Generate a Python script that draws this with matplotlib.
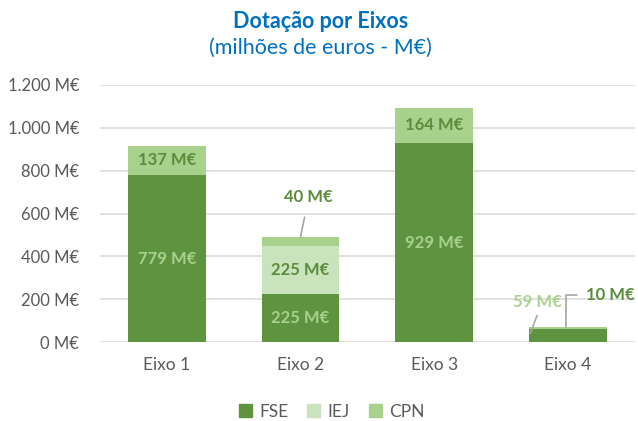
import matplotlib
matplotlib.use("Agg")
import matplotlib.pyplot as plt
from matplotlib.patches import Patch

plt.rcParams["font.family"] = ["Lato", "DejaVu Sans"]

# dados (milhões de euros)
eixos = ["Eixo 1", "Eixo 2", "Eixo 3", "Eixo 4"]
fse = [779, 225, 929, 59]
iej = [0, 225, 0, 0]
cpn = [137, 40, 164, 10]

c_fse = "#5E9440"
c_iej = "#C9E3BC"
c_cpn = "#A9D18E"
c_lab = "#5A8C3A"
c_txt = "#595959"
c_line = "#A6A6A6"


def fmt(v):
    return f"{v:,.0f} M€".replace(",", ".")


fig = plt.figure(figsize=(6.38, 4.21), dpi=100)
ax = fig.add_axes([0.1567, 0.1876, 0.838, 0.6105])

x = list(range(len(eixos)))
w = 0.58
base2 = [a + b for a, b in zip(fse, iej)]
ax.bar(x, fse, width=w, color=c_fse, zorder=3)
ax.bar(x, iej, width=w, bottom=fse, color=c_iej, zorder=3)
ax.bar(x, cpn, width=w, bottom=base2, color=c_cpn, zorder=3)

ax.set_ylim(0, 1200)
ax.set_xlim(-0.5, len(eixos) - 0.5)
ax.set_yticks(range(0, 1201, 200))
ax.set_yticklabels([fmt(v) for v in range(0, 1201, 200)])
ax.set_xticks(x)
ax.set_xticklabels(eixos)
ax.tick_params(axis="both", length=0, colors=c_txt, labelsize=12.5)
ax.tick_params(axis="y", pad=15, labelsize=12)
ax.tick_params(axis="x", pad=11)
ax.grid(axis="y", color="#D9D9D9", lw=1.1, zorder=0)
for s in ax.spines.values():
    s.set_visible(False)

lab = dict(ha="center", va="center", fontsize=12, fontweight="bold", zorder=5)

# rótulos dentro das barras
for i in range(3):
    ax.text(i, fse[i] / 2, fmt(fse[i]), color=c_cpn, **lab)
    if iej[i]:
        ax.text(i, fse[i] + iej[i] / 2, fmt(iej[i]), color=c_lab, **lab)
    if i != 1:
        ax.text(i, base2[i] + cpn[i] / 2, fmt(cpn[i]), color=c_lab, **lab)

# Eixo 2: CPN com linha de chamada
top2 = base2[1] + cpn[1]
ax.annotate(fmt(cpn[1]), xy=(1, top2), xytext=(6, 29), textcoords="offset points",
            color=c_lab, arrowprops=dict(arrowstyle="-", color=c_line, lw=1.2,
                                         shrinkA=7, shrinkB=0), **lab)

# Eixo 4: FSE (rótulo à esquerda) e CPN (rótulo à direita)
top4 = fse[3] + cpn[3]
ax.annotate("", xy=(3 - 0.28, fse[3] * 0.7), xytext=(3 - 0.23, fse[3] * 2.1),
            arrowprops=dict(arrowstyle="-", color=c_line, lw=1.2, shrinkA=0, shrinkB=0))
ax.text(3 - 0.23, fse[3] * 3.15, fmt(fse[3]), color=c_cpn, **lab)
ax.annotate("", xy=(3 - 0.015, top4), xytext=(3 + 0.07, top4 + 150),
            arrowprops=dict(arrowstyle="-", color=c_line, lw=1.2, shrinkA=0, shrinkB=0,
                            connectionstyle="angle,angleA=0,angleB=90,rad=0"))
ax.text(3 + 0.32, top4 + 150, fmt(cpn[3]), color=c_lab, **lab)

fig.text(0.502, 0.948, "Dotação por Eixos", ha="center", va="center",
         fontsize=15.5, fontweight="bold", color="#0070C0")
fig.text(0.502, 0.886, "(milhões de euros - M€)", ha="center", va="center",
         fontsize=15.5, color="#0070C0")

handles = [Patch(color=c_fse), Patch(color=c_iej), Patch(color=c_cpn)]
fig.legend(handles, ["FSE", "IEJ", "CPN"], loc="center", bbox_to_anchor=(0.52, 0.022),
           ncol=3, frameon=False, fontsize=12.5, labelcolor=c_txt,
           handlelength=0.75, handleheight=0.75, handletextpad=0.4, columnspacing=1.1)

fig.savefig("out.png", dpi=100)
